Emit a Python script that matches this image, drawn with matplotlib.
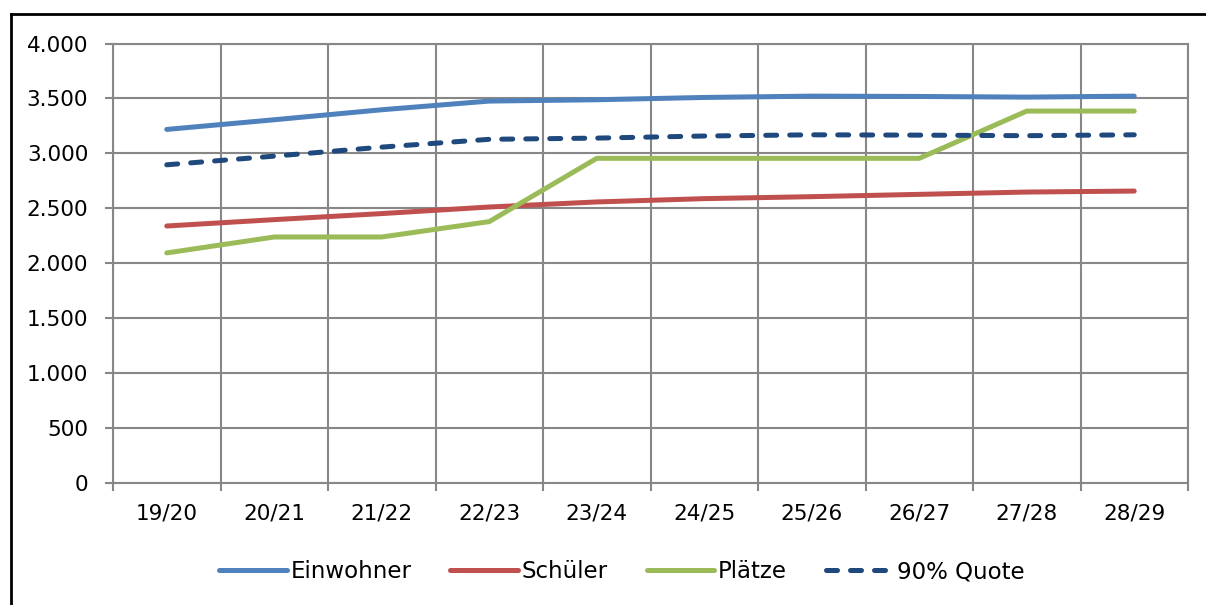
import matplotlib
matplotlib.use("Agg")
import matplotlib.pyplot as plt
from matplotlib.lines import Line2D
from matplotlib.ticker import FuncFormatter, MultipleLocator, FixedLocator
from matplotlib.font_manager import FontProperties

plt.rcParams['font.family'] = ['DejaVu Sans']

categories = ["19/20", "20/21", "21/22", "22/23", "23/24", "24/25", "25/26", "26/27", "27/28", "28/29"]
einwohner = [3218, 3306, 3397, 3476, 3488, 3509, 3521, 3518, 3512, 3521]
schueler = [2339, 2397, 2452, 2512, 2558, 2588, 2606, 2627, 2648, 2657]
plaetze = [2094, 2239, 2239, 2379, 2955, 2955, 2955, 2955, 3385, 3385]
quote90 = [2896, 2975, 3057, 3128, 3139, 3158, 3169, 3166, 3161, 3169]

series_names = ["Einwohner", "Schüler", "Plätze", "90% Quote"]
colors = ["#4F81BD", "#C0504D", "#9BBB59", "#1F497D"]

W, H = 1206, 605
fig = plt.figure(figsize=(W / 100, H / 100), dpi=100)
ax = fig.add_axes([113 / W, 1 - 483 / H, (1188 - 113) / W, (483 - 43.5) / H])

x = [i + 0.5 for i in range(len(categories))]
lw = 3.6
ax.plot(x, einwohner, color=colors[0], lw=lw, solid_capstyle='round', zorder=3)
ax.plot(x, schueler, color=colors[1], lw=lw, solid_capstyle='round', zorder=3)
ax.plot(x, plaetze, color=colors[2], lw=lw, solid_capstyle='round', zorder=3)
ax.plot(x, quote90, color=colors[3], lw=lw, dashes=(2.2, 2.6), dash_capstyle='round', zorder=4)

ax.set_xlim(0, len(categories))
ax.set_ylim(0, 4000)

grid_c = "#878787"
ax.yaxis.set_major_locator(MultipleLocator(500))
ax.yaxis.set_major_formatter(FuncFormatter(lambda v, p: f"{int(v):,}".replace(",", ".")))
ax.xaxis.set_major_locator(FixedLocator(range(len(categories) + 1)))
ax.xaxis.set_major_formatter(FuncFormatter(lambda v, p: ""))
ax.xaxis.set_minor_locator(FixedLocator(x))
ax.set_xticklabels(categories, minor=True)

ax.grid(True, which='major', color=grid_c, lw=1.5, zorder=1)
for s in ax.spines.values():
    s.set_color(grid_c)
    s.set_linewidth(1.5)

ax.tick_params(axis='y', which='major', length=5.8, width=1.5, color=grid_c, labelsize=15.5, pad=12)
ax.tick_params(axis='x', which='major', length=5.5, width=1.5, color=grid_c, labelsize=15.5)
ax.tick_params(axis='x', which='minor', length=0, labelsize=15.5, pad=15)

handles = [Line2D([], [], color=colors[0], lw=lw, solid_capstyle='round'),
           Line2D([], [], color=colors[1], lw=lw, solid_capstyle='round'),
           Line2D([], [], color=colors[2], lw=lw, solid_capstyle='round'),
           Line2D([], [], color=colors[3], lw=lw, dashes=(2.2, 2.6), dash_capstyle='round')]
legend_font = FontProperties(family=['DejaVu Sans'], size=16.5)
fig.legend(handles, series_names, loc='center', bbox_to_anchor=(622 / W, 1 - 572 / H),
           ncol=4, frameon=False, handlelength=2.95, handletextpad=0.16,
           columnspacing=1.7, prop=legend_font)

# outer frame (left and top edges visible)
fig.add_artist(Line2D([10.5 / W, 10.5 / W], [0, 1 - 14 / H], color='black', lw=2, transform=fig.transFigure))
fig.add_artist(Line2D([10.5 / W, 1], [1 - 14 / H, 1 - 14 / H], color='black', lw=2, transform=fig.transFigure))

fig.savefig("out.png", dpi=100)
